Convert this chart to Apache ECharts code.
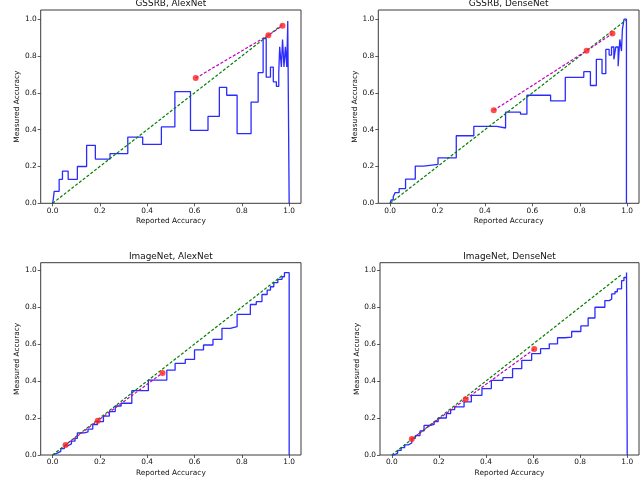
<!DOCTYPE html>
<html>
<head>
<meta charset="utf-8">
<script src="https://cdn.jsdelivr.net/npm/echarts@6/dist/echarts.min.js"></script>
<style>
html,body{margin:0;padding:0;background:#fff;}
#c{width:640px;height:490px;}
</style>
</head>
<body>
<div id="c"></div>
<script>
// ---------- data ----------
var titles = ['GSSRB, AlexNet', 'GSSRB, DenseNet', 'ImageNet, AlexNet', 'ImageNet, DenseNet'];
var xName = 'Reported Accuracy';
var yName = 'Measured Accuracy';
var tickValues = [0, 0.2, 0.4, 0.6, 0.8, 1.0];
var yMax = [1.05, 1.05, 1.04, 1.04];

// staircase (step-post): [reported accuracy, measured accuracy]
var stepsGssrbAlex = [[0,0],[0.003,0.02],[0.007,0.065],[0.028,0.13],[0.042,0.175],[0.066,0.13],[0.105,0.2],[0.144,0.315],[0.181,0.24],[0.243,0.27],[0.318,0.36],[0.381,0.32],[0.460,0.415],[0.517,0.607],[0.583,0.396],[0.657,0.472],[0.705,0.63],[0.736,0.587],[0.780,0.378],[0.839,0.55],[0.869,0.71],[0.890,0.895],[0.903,0.685],[0.921,0.74],[0.933,0.66],[0.946,0.635],[0.956,0.71],[0.960,0.85],[0.967,0.74],[0.972,0.89],[0.978,0.74],[0.984,0.85],[0.990,0.74],[0.994,0.99],[1.0,0]];
var stepsGssrbDense = [[0,0],[0.004,0.018],[0.013,0.036],[0.021,0.058],[0.038,0.08],[0.065,0.131],[0.106,0.202],[0.142,0.211],[0.202,0.247],[0.279,0.367],[0.353,0.418],[0.450,0.409],[0.487,0.495],[0.550,0.484],[0.577,0.587],[0.677,0.556],[0.739,0.684],[0.817,0.715],[0.845,0.64],[0.870,0.782],[0.894,0.704],[0.910,0.836],[0.924,0.805],[0.934,0.849],[0.944,0.782],[0.952,0.849],[0.962,0.745],[0.969,0.89],[0.976,0.827],[0.980,0.945],[0.987,1.0],[0.997,0]];
var stepsImagenetAlex = [[0,0],[0.008,0.01],[0.02,0.02],[0.035,0.035],[0.05,0.05],[0.065,0.06],[0.08,0.075],[0.095,0.09],[0.105,0.12],[0.135,0.125],[0.15,0.14],[0.17,0.165],[0.19,0.18],[0.215,0.21],[0.24,0.235],[0.265,0.265],[0.29,0.28],[0.335,0.348],[0.405,0.405],[0.483,0.459],[0.518,0.495],[0.561,0.517],[0.600,0.568],[0.638,0.595],[0.678,0.625],[0.716,0.685],[0.751,0.694],[0.780,0.760],[0.836,0.814],[0.861,0.829],[0.885,0.868],[0.907,0.892],[0.921,0.91],[0.935,0.932],[0.952,0.95],[0.970,0.964],[0.980,0.986],[1.0,0]];
var stepsImagenetDense = [[0,0],[0.01,0.01],[0.025,0.025],[0.04,0.04],[0.055,0.055],[0.07,0.065],[0.085,0.09],[0.1,0.105],[0.12,0.13],[0.137,0.16],[0.165,0.165],[0.18,0.18],[0.197,0.2],[0.232,0.224],[0.25,0.245],[0.267,0.26],[0.307,0.287],[0.338,0.323],[0.383,0.359],[0.423,0.404],[0.472,0.418],[0.513,0.467],[0.552,0.512],[0.594,0.548],[0.632,0.575],[0.669,0.601],[0.704,0.634],[0.735,0.638],[0.764,0.668],[0.803,0.698],[0.834,0.741],[0.863,0.799],[0.905,0.835],[0.924,0.844],[0.934,0.871],[0.948,0.883],[0.958,0.898],[0.976,0.943],[0.986,0.96],[0.997,0.987],[1.0,0]];

// ideal diagonal end points
var diagEnd = [0.975, 0.995, 0.975, 0.973];

// calibrated points (red dots joined by magenta dashes)
var dotsGssrbAlex = [[0.605,0.68],[0.912,0.913],[0.972,0.965]];
var dotsGssrbDense = [[0.437,0.505],[0.829,0.829],[0.938,0.922]];
var dotsImagenetAlex = [[0.055,0.054],[0.191,0.185],[0.465,0.444]];
var dotsImagenetDense = [[0.085,0.087],[0.314,0.302],[0.605,0.573]];

var allSteps = [stepsGssrbAlex, stepsGssrbDense, stepsImagenetAlex, stepsImagenetDense];
var allDots = [dotsGssrbAlex, dotsGssrbDense, dotsImagenetAlex, dotsImagenetDense];

// ---------- layout ----------
var grids = [
  {left: 40.7, top: 10, width: 260.3, height: 193.3},
  {left: 378.3, top: 10, width: 260.7, height: 193.3},
  {left: 40.7, top: 262.7, width: 260.3, height: 192.3},
  {left: 380, top: 262.7, width: 259, height: 192.3}
];
var FONT = 'DejaVu Sans';
var tickFs = 7.4, titleFs = 8.9;

var option = {
  animation: false,
  backgroundColor: '#fff',
  title: [], grid: [], xAxis: [], yAxis: [], series: []
};

for (var i = 0; i < 4; i++) {
  var g = grids[i];
  option.grid.push({left: g.left, top: g.top, width: g.width, height: g.height,
    show: true, borderColor: '#3a3a3a', borderWidth: 1, backgroundColor: 'transparent'});
  option.title.push({
    text: titles[i], left: g.left + g.width / 2, top: g.top - 10.5, textAlign: 'center', padding: 0,
    textStyle: {fontFamily: FONT, fontSize: titleFs, fontWeight: 'normal', color: '#111'}
  });
  var lblFmt = function (v) { return v.toFixed(1); };
  option.xAxis.push({
    type: 'value', gridIndex: i, min: -0.05, max: 1.05,
    name: xName, nameLocation: 'middle', nameGap: 14.5,
    nameTextStyle: {fontFamily: FONT, fontSize: tickFs, color: '#111'},
    axisLine: {show: false, onZero: false},
    axisTick: {show: true, length: 3, lineStyle: {color: '#333', width: 0.8}, customValues: tickValues},
    axisLabel: {show: true, margin: 4, fontFamily: FONT, fontSize: tickFs, color: '#111', customValues: tickValues, formatter: lblFmt},
    splitLine: {show: false}
  });
  option.yAxis.push({
    type: 'value', gridIndex: i, min: 0, max: yMax[i],
    name: yName, nameLocation: 'middle', nameGap: 19,
    nameTextStyle: {fontFamily: FONT, fontSize: tickFs, color: '#111'},
    axisLine: {show: false, onZero: false},
    axisTick: {show: true, length: 3, lineStyle: {color: '#333', width: 0.8}, customValues: tickValues},
    axisLabel: {show: true, margin: 4, fontFamily: FONT, fontSize: tickFs, color: '#111', customValues: tickValues, formatter: lblFmt},
    splitLine: {show: false}
  });
  option.series.push({
    type: 'line', xAxisIndex: i, yAxisIndex: i, data: allSteps[i], step: 'end',
    symbol: 'none', lineStyle: {color: '#2b2bff', width: 1.3}, z: 2
  });
  option.series.push({
    type: 'line', xAxisIndex: i, yAxisIndex: i, data: [[0, 0], [diagEnd[i], diagEnd[i]]],
    symbol: 'none', lineStyle: {color: '#008000', width: 1.2, type: [3, 1.8]}, z: 3
  });
  option.series.push({
    type: 'line', xAxisIndex: i, yAxisIndex: i, data: allDots[i],
    symbol: 'none', lineStyle: {color: '#bf00bf', width: 1.2, type: [3, 1.8]}, z: 4
  });
  option.series.push({
    type: 'scatter', xAxisIndex: i, yAxisIndex: i, data: allDots[i],
    symbol: 'circle', symbolSize: 6, itemStyle: {color: '#ff2020'}, z: 5
  });
}

var chart = echarts.init(document.getElementById('c'), null, {renderer: 'canvas'});
chart.setOption(option);
</script>
</body>
</html>
